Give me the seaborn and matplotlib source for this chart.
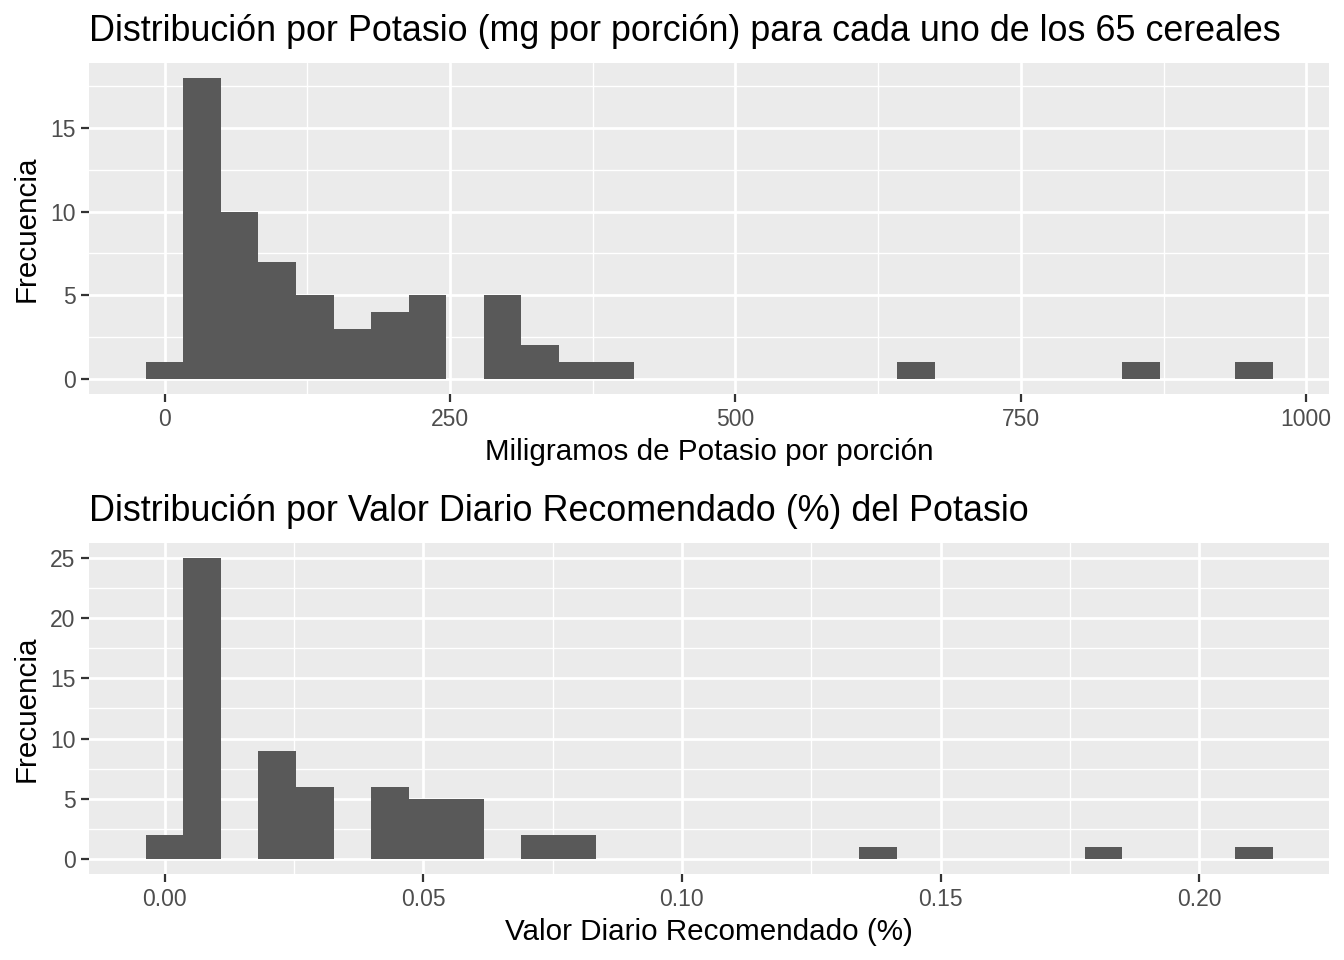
import numpy as np
import pandas as pd
import seaborn as sns
import matplotlib.pyplot as plt
from matplotlib.ticker import FormatStrFormatter

# Histograma 1: potasio (mg por porción), centro de cada clase con cereales
potasio_mg = [0, 33, 66, 99, 132, 165, 197, 230, 296, 329, 362, 395, 658, 855, 954]
frec_mg = [1, 18, 10, 7, 5, 3, 4, 5, 5, 2, 1, 1, 1, 1, 1]

# Histograma 2: valor diario recomendado (%)
vdr = [0.0, 0.0073, 0.0218, 0.029, 0.0436, 0.0508, 0.0581, 0.0726, 0.0799,
       0.1379, 0.1815, 0.2105]
frec_vdr = [2, 25, 9, 6, 6, 5, 5, 2, 2, 1, 1, 1]

df_mg = pd.DataFrame({'potasio': potasio_mg, 'n': frec_mg})
df_vdr = pd.DataFrame({'vdr': vdr, 'n': frec_vdr})

sns.set_style('darkgrid', {'axes.facecolor': '#EBEBEB', 'grid.color': 'white'})
plt.rcParams['font.family'] = ['Liberation Sans', 'DejaVu Sans']

fig = plt.figure(figsize=(13.44, 9.6), dpi=100)
ax1 = fig.add_axes([0.0665, 0.5896, 0.9223, 0.3451])
ax2 = fig.add_axes([0.0665, 0.0899, 0.9223, 0.3442])


def estilo(ax, titulo, xlab):
    ax.set_axisbelow(True)
    for s in ax.spines.values():
        s.set_visible(False)
    ax.grid(which='major', color='white', linewidth=2.0)
    ax.grid(which='minor', color='white', linewidth=1.0)
    ax.tick_params(which='major', length=6, width=1.6, color='#333333',
                   labelsize=16.5, labelcolor='#4D4D4D', pad=4,
                   bottom=True, left=True)
    ax.tick_params(which='minor', length=0)
    ax.set_title(titulo, loc='left', fontsize=25.8, pad=15.8, color='black')
    ax.set_xlabel(xlab, fontsize=21.3, labelpad=5, color='black')
    ax.set_ylabel('Frecuencia', fontsize=21.3, labelpad=7, color='black')


sns.histplot(data=df_mg, x='potasio', weights='n', binwidth=32.9,
             binrange=(-16.45, 970.55), color='#595959', alpha=1,
             linewidth=0, ax=ax1)
ax1.set_xlim(-65.8, 1019.9)
ax1.set_ylim(-0.9, 18.9)
ax1.set_xticks([0, 250, 500, 750, 1000])
ax1.set_xticks([125, 375, 625, 875], minor=True)
ax1.set_yticks([0, 5, 10, 15])
ax1.set_yticks([2.5, 7.5, 12.5, 17.5], minor=True)
estilo(ax1, 'Distribución por Potasio (mg por porción) para cada uno de los 65 cereales',
       'Miligramos de Potasio por porción')

sns.histplot(data=df_vdr, x='vdr', weights='n', binwidth=0.00726,
             binrange=(-0.00363, 0.21417), color='#595959', alpha=1,
             linewidth=0, ax=ax2)
ax2.set_xlim(-0.01452, 0.22506)
ax2.set_ylim(-1.25, 26.25)
ax2.set_xticks([0, 0.05, 0.10, 0.15, 0.20])
ax2.set_xticks([0.025, 0.075, 0.125, 0.175], minor=True)
ax2.xaxis.set_major_formatter(FormatStrFormatter('%.2f'))
ax2.set_yticks([0, 5, 10, 15, 20, 25])
ax2.set_yticks([2.5, 7.5, 12.5, 17.5, 22.5], minor=True)
estilo(ax2, 'Distribución por Valor Diario Recomendado (%) del Potasio',
       'Valor Diario Recomendado (%)')

fig.savefig('out.png', dpi=100)
